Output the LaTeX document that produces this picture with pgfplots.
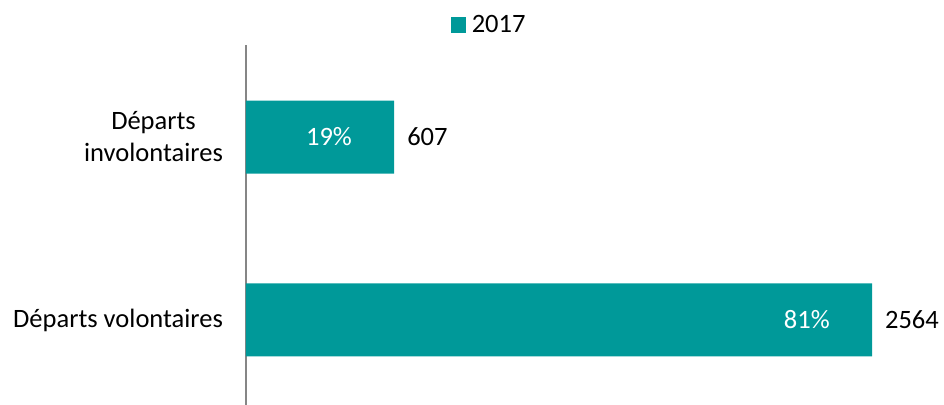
\documentclass[border=0pt]{standalone}
\usepackage{pgfplots}
\pgfplotsset{compat=1.18}
\usepackage{pgfplotstable}
\usepackage{fontspec}
\setmainfont{Carlito}
\definecolor{teal1}{RGB}{0,153,153}
\definecolor{axgrey}{RGB}{134,134,134}
\pgfplotstableread{
y v val pct
0 2564 2564 81\%
1 607 607 19\%
}\datatable
\begin{document}
\begin{tikzpicture}[font=\fontsize{13.25}{16}\selectfont]
\useasboundingbox (-123pt,0pt) rectangle (349pt,202.5pt);
\begin{axis}[
  at={(0pt,0pt)}, anchor=south west,
  scale only axis, width=342pt, height=180pt,
  xbar, bar width=36.5pt, bar shift=0pt,
  xmin=0, xmax=2801.5,
  ymin=-0.4645, ymax=1.503,
  enlargelimits=false,
  ytick={0,1},
  yticklabels={Départs volontaires, {Départs\\involontaires}},
  yticklabel style={align=center, xshift=-8pt, text=black},
  major tick length=0pt,
  axis y line*=left,
  hide x axis,
  y axis line style={draw=axgrey, line width=1pt, -},
  legend style={draw=none, fill=none, at={(0.358,1.0556)}, anchor=center,
    inner sep=0pt, nodes={inner sep=2.8pt}},
  legend image code/.code={\fill[teal1] (0pt,-3.9pt) rectangle (7.8pt,3.9pt);},
]
\addplot[fill=teal1, draw=none,
  nodes near coords, point meta=explicit symbolic,
  nodes near coords style={anchor=west, xshift=3pt, text=black}]
  table[x=v, y=y, meta=val] {\datatable};
\addlegendentry{2017}
\addplot[draw=none, fill=none, forget plot,
  nodes near coords, point meta=explicit symbolic,
  nodes near coords style={anchor=east, xshift=-17.6pt, text=white}]
  table[x=v, y=y, meta=pct] {\datatable};
\end{axis}
\end{tikzpicture}
\end{document}
